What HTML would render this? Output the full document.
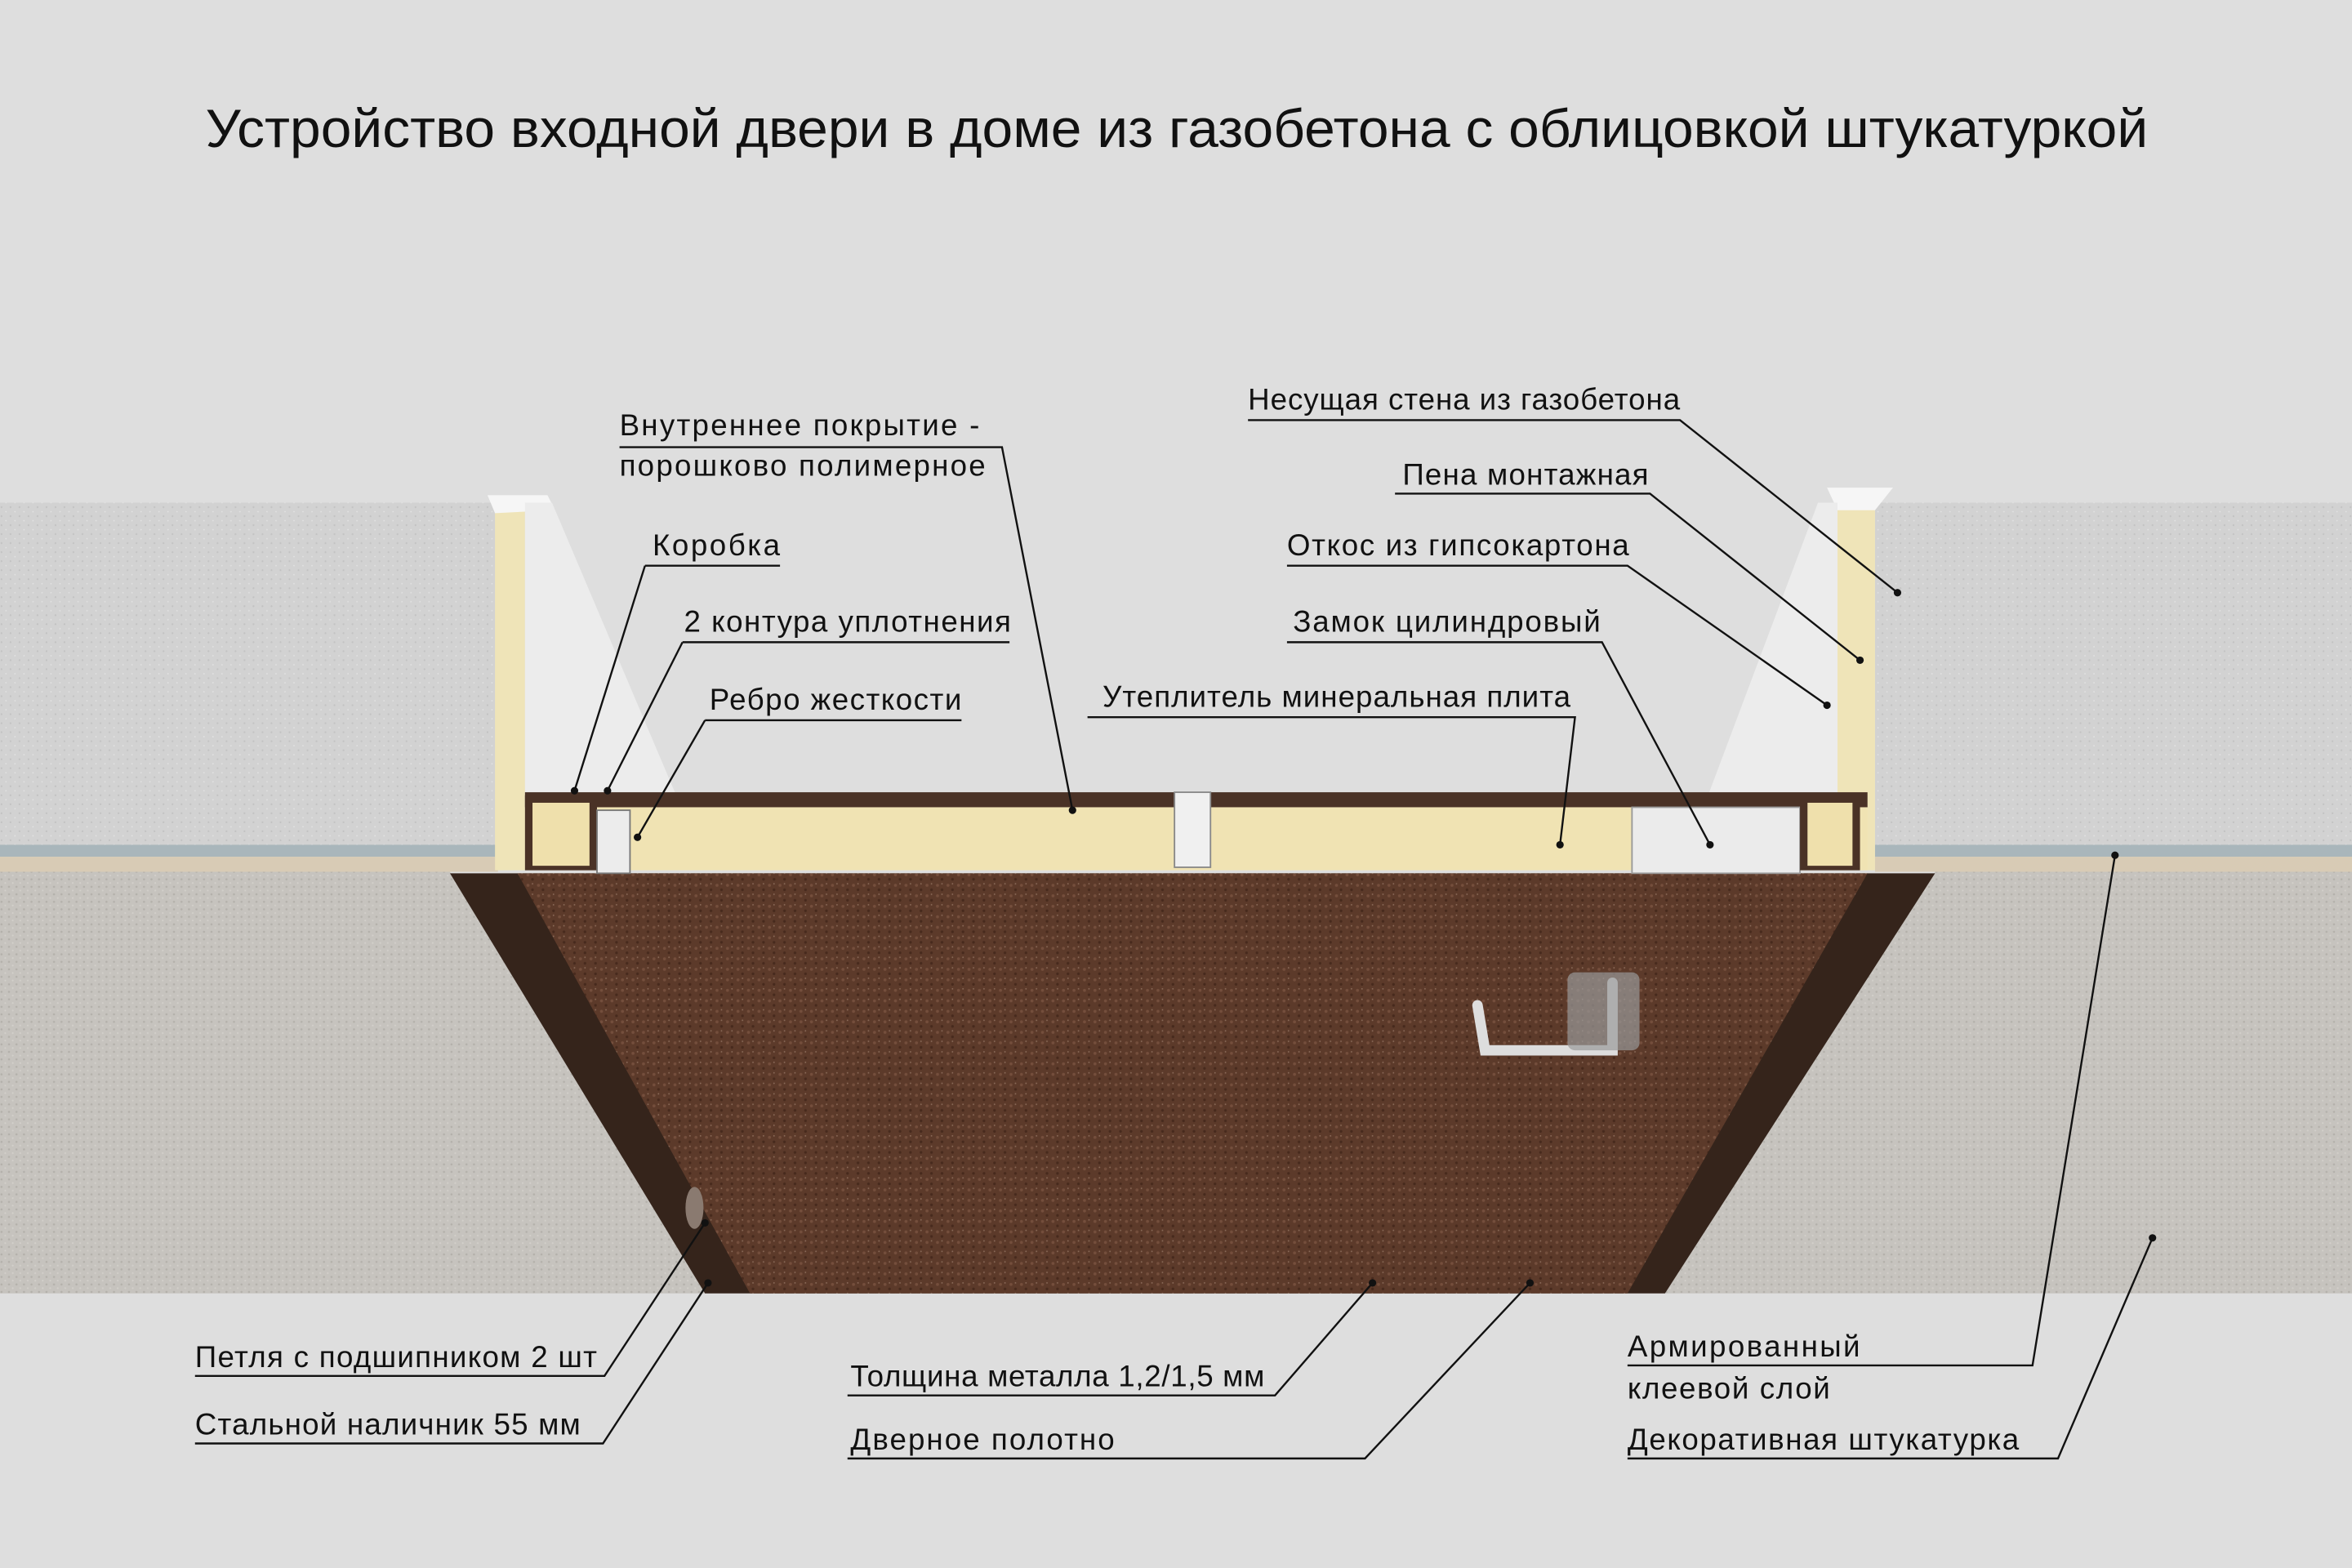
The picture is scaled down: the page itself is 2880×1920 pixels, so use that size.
<!DOCTYPE html>
<html><head><meta charset="utf-8"><style>
html,body{margin:0;padding:0;background:#dedede;}
svg{display:block}
text{font-family:"Liberation Sans",sans-serif;fill:#111;}
</style></head><body>
<svg width="2880" height="1920" viewBox="0 0 1568 1045" preserveAspectRatio="none" xmlns="http://www.w3.org/2000/svg">
<defs>
<pattern id="n1" width="6" height="6" patternUnits="userSpaceOnUse">
<rect width="6" height="6" fill="#d2d2d2"/><circle cx="1" cy="2" r="0.6" fill="#c2c2c2"/><circle cx="4" cy="5" r="0.5" fill="#e2e2e2"/>
</pattern>
<pattern id="n2" width="5" height="5" patternUnits="userSpaceOnUse">
<rect width="5" height="5" fill="#c6c3be"/><circle cx="1" cy="1" r="0.7" fill="#b3b0aa"/><circle cx="3.5" cy="3.5" r="0.6" fill="#d3d0cb"/>
</pattern>
<pattern id="n3" width="7" height="7" patternUnits="userSpaceOnUse">
<rect width="7" height="7" fill="#5c3a2a"/><circle cx="2" cy="2" r="1" fill="#744e3c"/><circle cx="5" cy="5" r="0.9" fill="#472a1d"/><circle cx="5" cy="1" r="0.5" fill="#8a6a58"/>
</pattern>
</defs>
<rect width="1568" height="1045" fill="#dedede"/>
<text x="137" y="98" font-size="36" textLength="1295" lengthAdjust="spacingAndGlyphs">Устройство входной двери в доме из газобетона с облицовкой штукатуркой</text>
<rect x="0" y="335" width="332" height="230" fill="url(#n1)"/>
<rect x="1250" y="335" width="318" height="230" fill="url(#n1)"/>
<rect x="0" y="563" width="332" height="8" fill="#a9b6bb"/>
<rect x="1250" y="563" width="318" height="8" fill="#a9b6bb"/>
<rect x="0" y="571" width="332" height="10" fill="#d8cbb5"/>
<rect x="1250" y="571" width="318" height="10" fill="#d8cbb5"/>
<polygon points="0,581 300,581 475,862 0,862" fill="url(#n2)"/>
<polygon points="1290,581 1568,581 1568,862 1110,862" fill="url(#n2)"/>
<polygon points="300,582 1290,582 1110,862 470,862" fill="#35241b"/>
<polygon points="345,582 1245,582 1085,862 500,862" fill="url(#n3)"/>
<rect x="330" y="335" width="20" height="245" fill="#efe4b8"/>
<rect x="1225" y="335" width="25" height="245" fill="#efe4b8"/>
<polygon points="325,330 365,330 370,340 330,342" fill="#f6f6f6"/>
<polygon points="1218,325 1262,325 1250,340 1225,340" fill="#f6f6f6"/>
<polygon points="350,335 368,335 455,540 350,540" fill="#ececec"/>
<polygon points="1225,335 1212,335 1135,540 1225,540" fill="#ececec"/>
<rect x="350" y="528" width="895" height="10" fill="#4a3226"/>
<rect x="350" y="538" width="895" height="42" fill="#f0e3b3"/>
<rect x="350" y="530" width="48" height="50" fill="#4a3226"/>
<rect x="355" y="535" width="38" height="42" fill="#efe0ac"/>
<rect x="398" y="540" width="22" height="42" fill="#ececec" stroke="#777" stroke-width="1"/>
<rect x="783" y="528" width="24" height="50" fill="#f0f0f0" stroke="#888"/>
<rect x="1088" y="538" width="112" height="44" fill="#ebebeb" stroke="#999"/>
<rect x="1200" y="530" width="40" height="50" fill="#4a3226"/>
<rect x="1205" y="535" width="30" height="42" fill="#efe0ac"/>
<path d="M1075,655 L1075,700 L990,700 L985,670" fill="none" stroke="#ddd" stroke-width="7" stroke-linecap="round"/>
<rect x="1045" y="648" width="48" height="52" rx="5" fill="#9a9a9a" opacity="0.7"/>
<ellipse cx="463" cy="805" rx="6" ry="14" fill="#8a7a70"/>
<g stroke="#111" stroke-width="1.3" fill="none">
<polyline points="413,298 668,298 715,540"/>
<polyline points="430,377 520,377"/><line x1="430" y1="377" x2="383" y2="527"/>
<polyline points="455,428 673,428"/><line x1="455" y1="428" x2="405" y2="527"/>
<polyline points="470,480 641,480"/><line x1="470" y1="480" x2="425" y2="558"/>
<polyline points="725,478 1050,478 1040,563"/>
<polyline points="858,428 1068,428 1140,563"/>
<polyline points="858,377 1085,377 1218,470"/>
<polyline points="930,329 1100,329 1240,440"/>
<polyline points="832,280 1120,280 1265,395"/>
<polyline points="1085,910 1355,910 1410,570"/>
<polyline points="1085,972 1372,972 1435,825"/>
<polyline points="130,917 403,917 470,815"/>
<polyline points="130,962 402,962 472,855"/>
<polyline points="565,930 850,930 915,855"/>
<polyline points="565,972 910,972 1020,855"/>
</g>
<g fill="#111">
<circle cx="715" cy="540" r="2.5"/><circle cx="383" cy="527" r="2.5"/><circle cx="405" cy="527" r="2.5"/><circle cx="425" cy="558" r="2.5"/>
<circle cx="1040" cy="563" r="2.5"/><circle cx="1140" cy="563" r="2.5"/><circle cx="1218" cy="470" r="2.5"/><circle cx="1240" cy="440" r="2.5"/><circle cx="1265" cy="395" r="2.5"/>
<circle cx="1410" cy="570" r="2.5"/><circle cx="1435" cy="825" r="2.5"/><circle cx="470" cy="815" r="2.5"/><circle cx="472" cy="855" r="2.5"/><circle cx="915" cy="855" r="2.5"/><circle cx="1020" cy="855" r="2.5"/>
</g>
<g font-size="20">
<text x="413" y="290" textLength="240">Внутреннее покрытие -</text>
<text x="413" y="317" textLength="244">порошково полимерное</text>
<text x="435" y="370" textLength="85">Коробка</text>
<text x="456" y="421" textLength="218">2 контура уплотнения</text>
<text x="473" y="473" textLength="168">Ребро жесткости</text>
<text x="735" y="471" textLength="312">Утеплитель минеральная плита</text>
<text x="862" y="421" textLength="205">Замок цилиндровый</text>
<text x="858" y="370" textLength="228">Откос из гипсокартона</text>
<text x="935" y="323" textLength="164">Пена монтажная</text>
<text x="832" y="273" textLength="288">Несущая стена из газобетона</text>
<text x="1085" y="904" textLength="155">Армированный</text>
<text x="1085" y="932" textLength="135">клеевой слой</text>
<text x="1085" y="966" textLength="261">Декоративная штукатурка</text>
<text x="130" y="911" textLength="268">Петля с подшипником 2 шт</text>
<text x="130" y="956" textLength="257">Стальной наличник 55 мм</text>
<text x="567" y="924" textLength="276">Толщина металла 1,2/1,5 мм</text>
<text x="567" y="966" textLength="176">Дверное полотно</text>
</g>
</svg>
</body></html>
